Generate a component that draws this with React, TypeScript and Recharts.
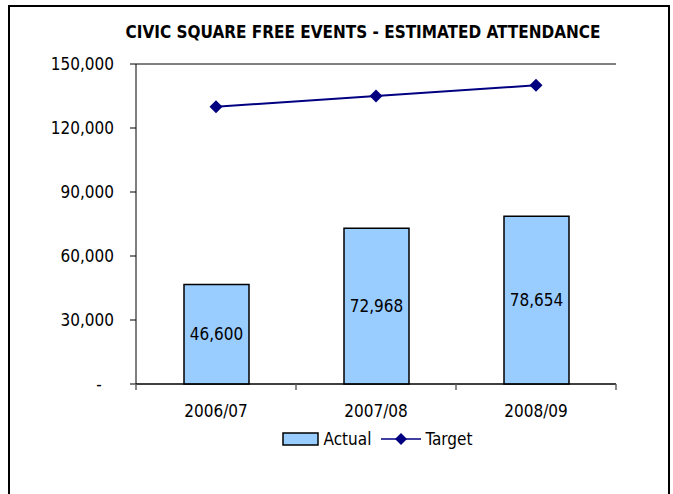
import React from 'react';
import { ComposedChart, Bar, Line, XAxis, YAxis, CartesianGrid, LabelList, Legend } from 'recharts';

const categories = ['2006/07', '2007/08', '2008/09'];
const actual = [46600, 72968, 78654];
const target = [130000, 135000, 140000];
const yTicks = [0, 30000, 60000, 90000, 120000, 150000];

const data = categories.map((year, i) => ({ year, actual: actual[i], target: target[i] }));

const FONT = '"DejaVu Sans Condensed", "Liberation Sans Narrow", sans-serif';
const NAVY = '#000080';
const BLUE = '#99CCFF';
const TICK_GAP = 21; // tickSize + tickMargin on the category axis

const fmt = (v: number) => (v === 0 ? '-' : v.toLocaleString('en-US'));

const Diamond = (props: any) => {
    const { cx, cy } = props;
    if (cx == null || cy == null) return null;
    const r = 6.5;
    return <polygon points={`${cx},${cy - r} ${cx + r},${cy} ${cx},${cy + r} ${cx - r},${cy}`} fill={NAVY} />;
};

const YTick = (props: any) => {
    const { x, y, payload } = props;
    const zero = payload.value === 0;
    return (
        <text x={zero ? x - 15 : x} y={y} dy="0.35em" textAnchor={zero ? 'middle' : 'end'} fill="#000" fontSize={17} fontFamily={FONT}>
            {fmt(payload.value)}
        </text>
    );
};

// category label plus Excel-style tick marks on the category boundaries
const XTick = (props: any) => {
    const { x, y, payload, index } = props;
    const half = payload.offset || 0;
    const axisY = y - TICK_GAP;
    return (
        <g>
            <line x1={x - half} x2={x - half} y1={axisY} y2={axisY + 6} stroke="#606060" strokeWidth={1.5} />
            {index === categories.length - 1 && (
                <line x1={x + half} x2={x + half} y1={axisY} y2={axisY + 6} stroke="#606060" strokeWidth={1.5} />
            )}
            <text x={x} y={y} dy="0.71em" textAnchor="middle" fill="#000" fontSize={17} fontFamily={FONT}>
                {payload.value}
            </text>
        </g>
    );
};

const LegendContent = () => (
    <div style={{ display: 'flex', alignItems: 'center', justifyContent: 'center', fontFamily: FONT, fontSize: 17, color: '#000', paddingLeft: 76 }}>
        <svg width={38} height={14} style={{ marginRight: 4 }}>
            <rect x={1} y={1} width={35} height={12} fill={BLUE} stroke="#000" strokeWidth={1.5} />
        </svg>
        <span style={{ marginRight: 10 }}>Actual</span>
        <svg width={40} height={14} style={{ marginRight: 4 }}>
            <line x1={0} y1={7} x2={40} y2={7} stroke={NAVY} strokeWidth={1.5} />
            <polygon points="20,1 26,7 20,13 14,7" fill={NAVY} />
        </svg>
        <span>Target</span>
    </div>
);

const edge = { position: 'absolute' as const, background: '#000', zIndex: 5 };

export default function App() {
    return (
        <div style={{ position: 'absolute', top: 5, left: 8, width: 662, height: 489, background: '#fff', overflow: 'hidden' }}>
            <div style={{ ...edge, top: 0, left: 0, width: 662, height: 2 }} />
            <div style={{ ...edge, top: 0, left: 0, width: 2, height: 489 }} />
            <div style={{ ...edge, top: 0, left: 660, width: 2, height: 489 }} />
            <div style={{ position: 'absolute', top: 17, left: 0, width: 710, textAlign: 'center', fontFamily: FONT, fontWeight: 'bold', fontSize: 17 }}>
                CIVIC SQUARE FREE EVENTS - ESTIMATED ATTENDANCE
            </div>
            <div style={{ position: 'absolute', top: 2, left: 2 }}>
                <ComposedChart width={658} height={487} data={data} margin={{ top: 57, right: 52, bottom: 50, left: 0 }}>
                    <CartesianGrid vertical={false} stroke="#000" strokeWidth={1} />
                    <XAxis dataKey="year" height={40} axisLine={{ stroke: '#000' }} tickLine={false} tickSize={6} tickMargin={15}
                        tick={<XTick />} />
                    <YAxis yAxisId="l" domain={[0, 150000]} ticks={yTicks} width={126} interval={0}
                        axisLine={{ stroke: '#000' }} tickLine={{ stroke: '#000' }} tickSize={6} tickMargin={16} tick={<YTick />} />
                    <YAxis yAxisId="r" orientation="right" width={0} tick={false} axisLine={{ stroke: '#808080' }} tickLine={false} />
                    <Bar yAxisId="l" dataKey="actual" name="Actual" fill={BLUE} stroke="#000" strokeWidth={1.5} barSize={65} isAnimationActive={false}>
                        <LabelList dataKey="actual" position="center" formatter={(v: any) => fmt(Number(v))} fill="#000" fontSize={17} fontFamily={FONT} />
                    </Bar>
                    <Line yAxisId="l" dataKey="target" name="Target" stroke={NAVY} strokeWidth={2} dot={<Diamond />} activeDot={false} isAnimationActive={false} />
                    <Legend layout="vertical" align="center" verticalAlign="bottom" content={<LegendContent />}
                        wrapperStyle={{ top: 422, left: 0, width: 658, bottom: 'auto' }} />
                </ComposedChart>
            </div>
        </div>
    );
}
